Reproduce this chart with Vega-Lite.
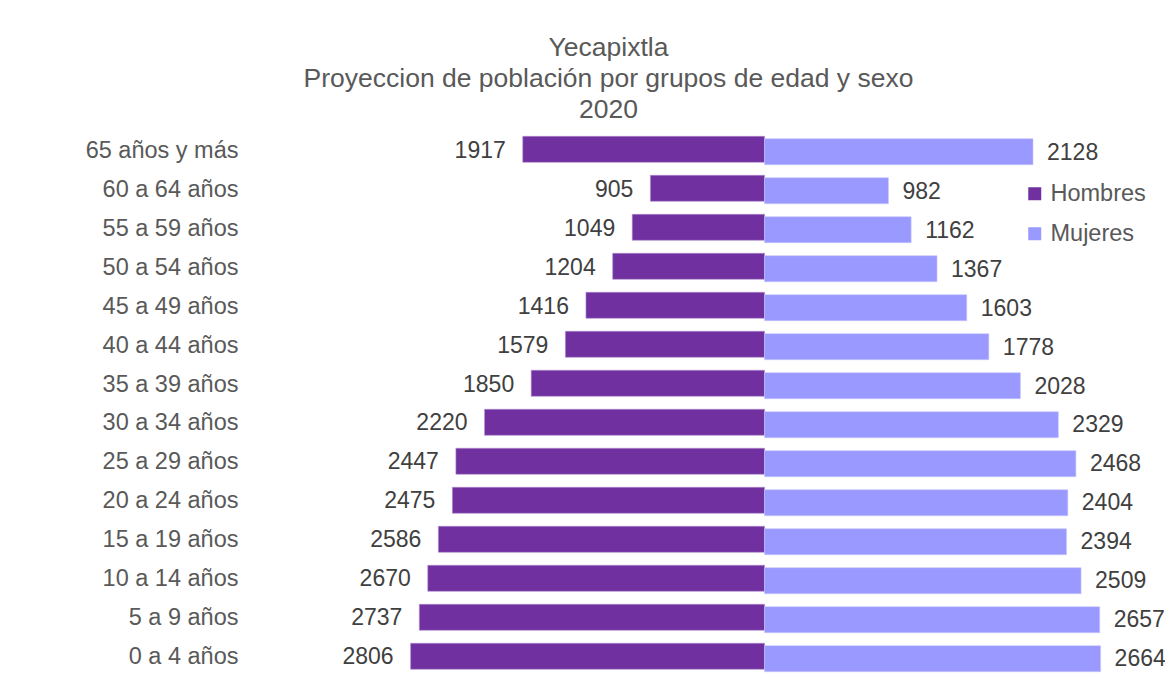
{
  "$schema": "https://vega.github.io/schema/vega-lite/v6.json",
  "autosize": {"type": "none"},
  "width": 883,
  "height": 546,
  "padding": {"left": 260, "top": 131, "right": 22, "bottom": 9},
  "background": "white",
  "config": {
    "font": "Liberation Sans",
    "view": {"stroke": null}
  },
  "title": {
    "text": ["Yecapixtla", "Proyeccion de población por grupos de edad y sexo", "2020"],
    "fontSize": 26.5,
    "fontWeight": "normal",
    "color": "#595959",
    "lineHeight": 31,
    "anchor": "middle",
    "dx": -93,
    "offset": 8
  },
  "data": {
    "values": [
      {"edad": "65 años y más", "sexo": "Hombres", "valor": 1917},
      {"edad": "60 a 64 años", "sexo": "Hombres", "valor": 905},
      {"edad": "55 a 59 años", "sexo": "Hombres", "valor": 1049},
      {"edad": "50 a 54 años", "sexo": "Hombres", "valor": 1204},
      {"edad": "45 a 49 años", "sexo": "Hombres", "valor": 1416},
      {"edad": "40 a 44 años", "sexo": "Hombres", "valor": 1579},
      {"edad": "35 a 39 años", "sexo": "Hombres", "valor": 1850},
      {"edad": "30 a 34 años", "sexo": "Hombres", "valor": 2220},
      {"edad": "25 a 29 años", "sexo": "Hombres", "valor": 2447},
      {"edad": "20 a 24 años", "sexo": "Hombres", "valor": 2475},
      {"edad": "15 a 19 años", "sexo": "Hombres", "valor": 2586},
      {"edad": "10 a 14 años", "sexo": "Hombres", "valor": 2670},
      {"edad": "5 a 9 años", "sexo": "Hombres", "valor": 2737},
      {"edad": "0 a 4 años", "sexo": "Hombres", "valor": 2806},
      {"edad": "65 años y más", "sexo": "Mujeres", "valor": 2128},
      {"edad": "60 a 64 años", "sexo": "Mujeres", "valor": 982},
      {"edad": "55 a 59 años", "sexo": "Mujeres", "valor": 1162},
      {"edad": "50 a 54 años", "sexo": "Mujeres", "valor": 1367},
      {"edad": "45 a 49 años", "sexo": "Mujeres", "valor": 1603},
      {"edad": "40 a 44 años", "sexo": "Mujeres", "valor": 1778},
      {"edad": "35 a 39 años", "sexo": "Mujeres", "valor": 2028},
      {"edad": "30 a 34 años", "sexo": "Mujeres", "valor": 2329},
      {"edad": "25 a 29 años", "sexo": "Mujeres", "valor": 2468},
      {"edad": "20 a 24 años", "sexo": "Mujeres", "valor": 2404},
      {"edad": "15 a 19 años", "sexo": "Mujeres", "valor": 2394},
      {"edad": "10 a 14 años", "sexo": "Mujeres", "valor": 2509},
      {"edad": "5 a 9 años", "sexo": "Mujeres", "valor": 2657},
      {"edad": "0 a 4 años", "sexo": "Mujeres", "valor": 2664}
    ]
  },
  "encoding": {
    "y": {
      "field": "edad",
      "type": "nominal",
      "sort": null,
      "scale": {"paddingInner": 0.333, "paddingOuter": 0.1667},
      "axis": {
        "title": null,
        "ticks": false,
        "domain": false,
        "labelFontSize": 23.5,
        "labelColor": "#595959",
        "labelPadding": 22,
        "labelFont": "Liberation Sans"
      }
    }
  },
  "layer": [
    {
      "mark": {"type": "rule", "color": "#D9D9D9", "strokeWidth": 1.3},
      "encoding": {
        "x": {"datum": 0, "type": "quantitative", "scale": {"domain": [-4000, 3000]}, "axis": null}
      }
    },
    {
      "transform": [{"filter": "datum.sexo === 'Hombres'"}],
      "layer": [
        {
          "mark": {"type": "bar", "yOffset": -1.2, "stroke": "#B08FD0", "strokeWidth": 0.6},
          "encoding": {
            "x": {"field": "valor", "type": "quantitative", "scale": {"domain": [-3000, 4000], "reverse": true}, "axis": null},
            "color": {
              "field": "sexo",
              "type": "nominal",
              "scale": {"domain": ["Hombres", "Mujeres"], "range": ["#7030A0", "#9999FF"]},
              "legend": {
                "orient": "none",
                "legendX": 763,
                "legendY": 51,
                "title": null,
                "symbolType": "square",
                "symbolSize": 169,
                "symbolStrokeWidth": 0,
                "labelFontSize": 23.5,
                "labelColor": "#595959",
                "labelFont": "Liberation Sans",
                "labelOffset": 4,
                "rowPadding": 15,
                "padding": 0
              }
            }
          }
        },
        {
          "mark": {"type": "text", "align": "right", "baseline": "middle", "dx": -17, "yOffset": 0, "fontSize": 23, "color": "#404040"},
          "encoding": {
            "x": {"field": "valor", "type": "quantitative", "scale": {"domain": [-3000, 4000], "reverse": true}, "axis": null},
            "text": {"field": "valor", "type": "quantitative", "format": "d"}
          }
        }
      ],
      "resolve": {"scale": {"x": "shared"}}
    },
    {
      "transform": [{"filter": "datum.sexo === 'Mujeres'"}],
      "layer": [
        {
          "mark": {"type": "bar", "yOffset": 1.2, "stroke": "#C8C8FF", "strokeWidth": 0.6},
          "encoding": {
            "x": {"field": "valor", "type": "quantitative", "scale": {"domain": [-4000, 3000]}, "axis": null},
            "color": {
              "field": "sexo",
              "type": "nominal",
              "scale": {"domain": ["Hombres", "Mujeres"], "range": ["#7030A0", "#9999FF"]}
            }
          }
        },
        {
          "mark": {"type": "text", "align": "left", "baseline": "middle", "dx": 14, "yOffset": 2, "fontSize": 23, "color": "#404040"},
          "encoding": {
            "x": {"field": "valor", "type": "quantitative", "scale": {"domain": [-4000, 3000]}, "axis": null},
            "text": {"field": "valor", "type": "quantitative", "format": "d"}
          }
        }
      ],
      "resolve": {"scale": {"x": "shared"}}
    }
  ],
  "resolve": {"scale": {"x": "independent"}}
}
